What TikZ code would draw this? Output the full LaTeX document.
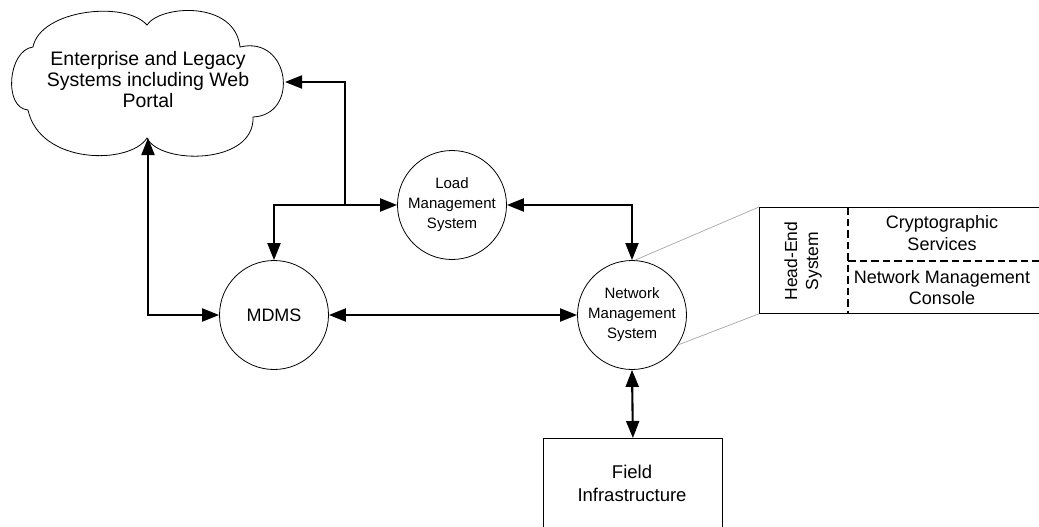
\documentclass[tikz,border=0pt]{standalone}
\usepackage{fontspec}
\setmainfont{Liberation Sans}
\usetikzlibrary{arrows.meta}
\begin{document}
\begin{tikzpicture}[x=1pt,y=-1pt,
  tip/.tip={Triangle[length=17pt,width=13pt]},
  arr/.style={line width=2.1pt,{tip}-{tip}},
  arrone/.style={line width=2.1pt,-{tip}},
  circ/.style={circle,draw,line width=0.8pt,minimum size=109pt,inner sep=0pt,align=center},
  bigtxt/.style={font=\fontsize{18}{22}\selectfont,align=center},
  smalltxt/.style={font=\fontsize{15}{20}\selectfont},
  thinbox/.style={draw,line width=0.8pt},
  dashline/.style={line width=2.2pt,dash pattern=on 7.5pt off 4pt},
  zoomline/.style={draw=black!35,line width=0.7pt}]
\clip (0,0) rectangle (1039,527);
% cloud
\draw[line width=0.8pt] (147,138)
  .. controls (130,165) and (40,165) .. (28,110)
  .. controls (3,108) and (8,50) .. (33,47)
  .. controls (40,10) and (125,0) .. (147,25)
  .. controls (160,5) and (235,0) .. (240,47)
  .. controls (290,35) and (300,115) .. (253,117)
  .. controls (255,165) and (160,165) .. (147,138) -- cycle;
\node[font=\fontsize{19.5}{21}\selectfont,align=center] (cloud) at (148,80)
  {Enterprise and Legacy\\Systems including Web\\Portal};
\coordinate (cloudE) at (285,82);
\coordinate (cloudS) at (148,138);
% nodes
\node[circ,bigtxt] (mdms) at (274,315) {MDMS};
\node[circ,smalltxt] (lms) at (452,205) {Load\\Management\\System};
\node[circ,smalltxt] (nms) at (632,315) {Network\\Management\\System};
\node[thinbox,minimum width=179pt,minimum height=92pt,anchor=north west,inner sep=0pt] (field) at (543,438) {};
\node[bigtxt,font=\fontsize{18.5}{23}\selectfont] (fieldtxt) at (632,483) {Field\\Infrastructure};
% head-end box
\node[thinbox,minimum width=290pt,minimum height=106pt,anchor=north west,inner sep=0pt] (hes) at (759,207) {};
\coordinate (dv1) at (848,207);
\coordinate (dv2) at (848,313);
\coordinate (dh1) at (848,261);
\coordinate (dh2) at (1040,261);
\draw[dashline] (dv1) -- (dv2);
\draw[dashline] (dh1) -- (dh2);
\node[bigtxt,font=\fontsize{17.5}{21}\selectfont,rotate=90] (hestxt) at (803,261) {Head-End\\System};
\node[bigtxt,font=\fontsize{18}{22}\selectfont] (crypto) at (942,233) {Cryptographic\\Services};
\node[bigtxt,font=\fontsize{18}{21}\selectfont] (nmc) at (942,288) {Network Management\\Console};
% zoom lines
\draw[zoomline] (nms.87) -- (hes.north west);
\draw[zoomline] (nms.-33) -- (hes.south west);
% connectors
\coordinate (junc) at (345,205);
\draw[arr] (mdms.north) |- (lms.west);
\draw[arrone] (junc) |- (cloudE);
\draw[arr] (cloudS) |- (mdms.west);
\draw[arr] (lms.east) -| (nms.north);
\draw[arr] (mdms.east) -- (nms.west);
\draw[arr] (nms.south) -- (field.north);
\end{tikzpicture}
\end{document}
